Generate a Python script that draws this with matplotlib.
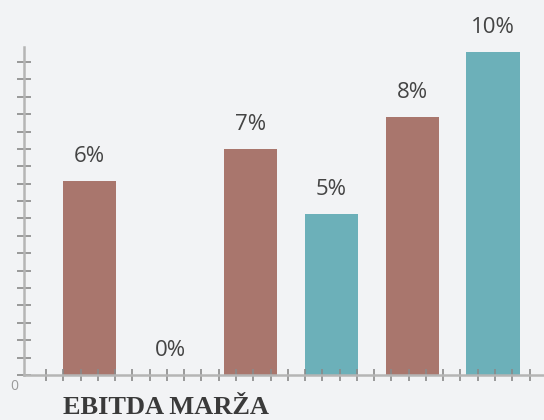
import numpy as np
import matplotlib
matplotlib.use("Agg")
from matplotlib import pyplot as plt

# dati
kategorije = ["A", "B", "C", "D", "E", "F"]
marza = [6, 0, 7, 5, 8, 10]
boje_stupaca = ["#a9766d", "#a9766d", "#a9766d", "#6cb0b9", "#a9766d", "#6cb0b9"]
oznake = ["6%", "0%", "7%", "5%", "8%", "10%"]
naslov = "EBITDA MARŽA"

POZADINA = "#f2f3f5"

fig = plt.figure(figsize=(5.44, 4.2), dpi=100, facecolor=POZADINA)
ax = fig.add_axes([24 / 544, 45 / 420, 520 / 544, 328 / 420])
ax.set_facecolor(POZADINA)

x = np.arange(len(kategorije))
ax.bar(x, marza, width=0.657, color=boje_stupaca, zorder=1)

for xi, v, t in zip(x, marza, oznake):
    ax.annotate(t, (xi, v), xytext=(0, 13.5), textcoords="offset points",
                ha="center", va="baseline", fontsize=16, color="#444444",
                family="Open Sans", annotation_clip=False)

ax.set_xlim(-0.812, 5.632)
ax.set_ylim(0, 10.155)

# kvacice (samo izgled)
ax.set_yticks(np.arange(19) * 0.5384)
ax.set_xticks(-0.539 + np.arange(29) * 0.214)
ax.set_xticklabels([])
ax.set_yticklabels([])
ax.tick_params(axis="both", direction="inout", color="#8a8a8a", width=1.2)
ax.tick_params(axis="y", length=10)
ax.tick_params(axis="x", length=9)

for s in ["top", "right"]:
    ax.spines[s].set_visible(False)
for s in ["left", "bottom"]:
    ax.spines[s].set_color("#b5b5b5")
    ax.spines[s].set_linewidth(1.8)
    ax.spines[s].set_zorder(3)

fig.text(14 / 544, 1 - 387 / 420, "0", ha="center", va="center",
         fontsize=10, color="#9a9a9a", family="Open Sans")
fig.text(63 / 544, 1.5 / 420, naslov, ha="left", va="bottom",
         fontsize=19, fontweight="bold", color="#3a3a3a",
         family="Liberation Serif")

fig.savefig("out.png", dpi=100, facecolor=POZADINA)
